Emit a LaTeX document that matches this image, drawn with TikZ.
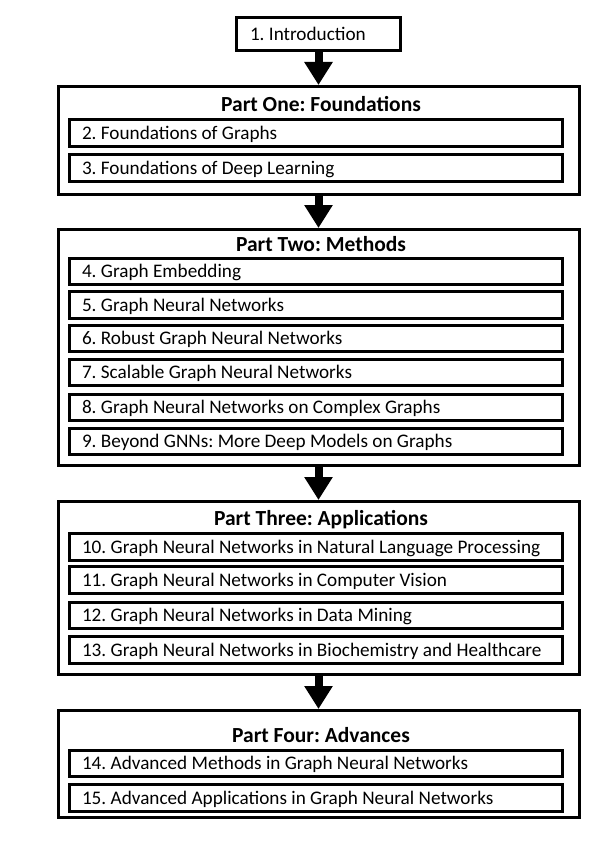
\documentclass[tikz,border=0pt]{standalone}
\usepackage{fontspec}
\setmainfont{Carlito}
\usetikzlibrary{arrows.meta,positioning}
\frenchspacing

\begin{document}
\begin{tikzpicture}[x=1pt, y=-1pt,
    partbox/.style={draw, line width=3pt, minimum width=521pt, inner sep=0pt},
    chapbox/.style={draw, line width=3pt, minimum height=26.5pt, text width=468pt,
                    text height=12.5pt, text depth=0pt,
                    inner xsep=12.5pt, inner ysep=0pt, align=flush left,
                    font=\fontsize{19.2}{21}\selectfont},
    parttitle/.style={inner sep=0pt, anchor=base, font=\bfseries\fontsize{21.5}{24}\selectfont},
    flowarrow/.style={line width=8pt, -{Triangle[length=23pt,width=27pt]}}]
  \useasboundingbox (0,0) rectangle (595,845);

  % introduction
  \node[draw, line width=3pt, minimum height=33pt, text width=137pt, inner xsep=13.5pt,
        text height=12.5pt, text depth=0pt,
        align=flush left, font=\fontsize{19.2}{21}\selectfont] (intro) at (318.5,34) {1. Introduction};

  % part one
  \node[partbox, minimum height=108pt] (p1) at (319,140.5) {};
  \node[parttitle] (p1title) at (321,112) {Part One: Foundations};
  \node[chapbox] (c2) at (316,133) {2. Foundations of Graphs};
  \node[chapbox] (c3) at (316,168) {3. Foundations of Deep Learning};

  % part two
  \node[partbox, minimum height=236pt] (p2) at (319,347.5) {};
  \node[parttitle] (p2title) at (321,251) {Part Two: Methods};
  \node[chapbox] (c4) at (316,271.5) {4. Graph Embedding};
  \node[chapbox] (c5) at (316,305) {5. Graph Neural Networks};
  \node[chapbox] (c6) at (316,338.5) {6. Robust Graph Neural Networks};
  \node[chapbox] (c7) at (316,372.5) {7. Scalable Graph Neural Networks};
  \node[chapbox] (c8) at (316,407.5) {8. Graph Neural Networks on Complex Graphs};
  \node[chapbox] (c9) at (316,441.5) {9. Beyond GNNs: More Deep Models on Graphs};

  % part three
  \node[partbox, minimum height=173pt] (p3) at (319,588) {};
  \node[parttitle] (p3title) at (321,525) {Part Three: Applications};
  \node[chapbox] (c10) at (316,547) {10. Graph Neural Networks in Natural Language Processing};
  \node[chapbox] (c11) at (316,580) {11. Graph Neural Networks in Computer Vision};
  \node[chapbox] (c12) at (316,615.5) {12. Graph Neural Networks in Data Mining};
  \node[chapbox] (c13) at (316,650) {13. Graph Neural Networks in Biochemistry and Healthcare};

  % part four
  \node[partbox, minimum height=107pt] (p4) at (319,764) {};
  \node[parttitle] (p4title) at (321,742) {Part Four: Advances};
  \node[chapbox] (c14) at (316,763.5) {14. Advanced Methods in Graph Neural Networks};
  \node[chapbox] (c15) at (316,798) {15. Advanced Applications in Graph Neural Networks};

  % arrows
  \draw[flowarrow] (intro.south) -- (intro.south |- p1.north);
  \draw[flowarrow] (p1.south -| intro.south) -- (intro.south |- p2.north);
  \draw[flowarrow] (p2.south -| intro.south) -- (intro.south |- p3.north);
  \draw[flowarrow] (p3.south -| intro.south) -- (intro.south |- p4.north);
\end{tikzpicture}
\end{document}
